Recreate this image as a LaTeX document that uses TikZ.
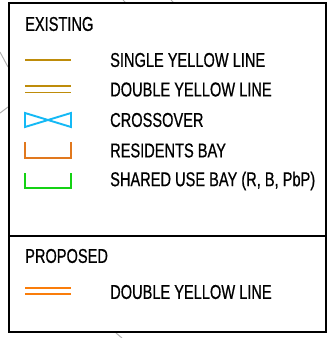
\documentclass[tikz,border=0pt]{standalone}
\usepackage{fontspec}
\setmainfont[FakeStretch=0.73,FakeBold=0.6]{Liberation Sans}
\definecolor{syl}{RGB}{190,140,10}
\definecolor{xov}{RGB}{20,185,245}
\definecolor{res}{RGB}{225,120,30}
\definecolor{shr}{RGB}{20,210,20}
\definecolor{prop}{RGB}{250,125,10}
\tikzset{
  lbl/.style={anchor=west, inner sep=0pt, font=\fontsize{20}{20}\selectfont},
  sym/.style={line width=1.9pt},
  bg/.style={draw=black!30, line width=1pt},
}
\begin{document}
\begin{tikzpicture}[x=1pt,y=-1pt]
\useasboundingbox (0,0) rectangle (328,338);
% faint background map lines
\draw[bg] (0,52) -- (8,67);
\draw[bg] (0,113) -- (8,107);
\draw[bg] (123,0) -- (126,3);
\draw[bg] (171,0) -- (174,3);
\draw[bg] (116,333) -- (122,338);
% frame
\draw[line width=2pt, fill=white] (9,3) rectangle (326,332);
\draw[line width=2pt] (9,235.5) -- (326,235.5);
% headings
\node[lbl] (hex) at (25,24) {EXISTING};
\node[lbl] (hpr) at (25,256) {PROPOSED};
% symbols
\draw[sym, syl] (25,60) -- (71,60);
\draw[sym, syl] (25,86) -- (71,86);
\draw[sym, syl] (25,92.5) -- (71,92.5);
\draw[sym, xov] (25,113) -- (25,127) -- (71,113) -- (71,127) -- cycle;
\draw[sym, res] (25,142) -- (25,158) -- (71,158) -- (71,142);
\draw[sym, shr] (25,173) -- (25,188) -- (71,188) -- (71,173);
\draw[sym, prop] (25,288) -- (71,288);
\draw[sym, prop] (25,294) -- (71,294);
% labels
\node[lbl] (l1) at (110,60) {SINGLE YELLOW LINE};
\node[lbl] (l2) at (110,89.5) {DOUBLE YELLOW LINE};
\node[lbl] (l3) at (110,120) {CROSSOVER};
\node[lbl] (l4) at (110,150.5) {RESIDENTS BAY};
\node[lbl] (l5) at (110,181) {SHARED USE BAY (R, B, PbP)};
\node[lbl] (l6) at (110,292) {DOUBLE YELLOW LINE};
\end{tikzpicture}
\end{document}
